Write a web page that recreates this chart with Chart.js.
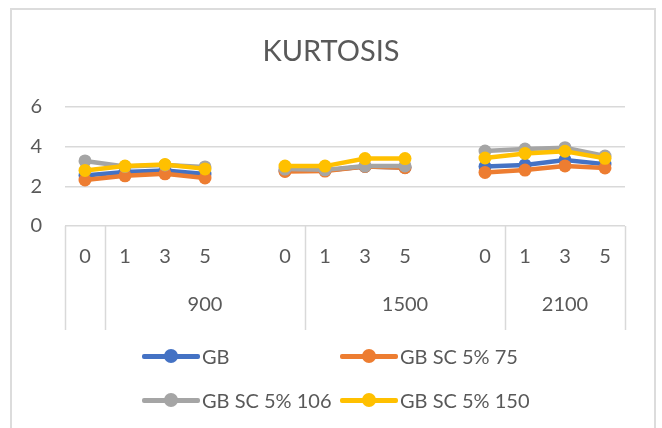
<!DOCTYPE html>
<html>
<head>
<meta charset="utf-8">
<script src="https://cdn.jsdelivr.net/npm/chart.js@4/dist/chart.umd.min.js"></script>
<style>
    html, body { margin: 0; padding: 0; background: #fff; }
    #wrap { position: relative; width: 662px; height: 428px; overflow: hidden; }
    #kurtChart { position: absolute; left: 0; top: 0; }
    #legend {
        position: absolute; left: 142px; top: 344px;
        display: grid; grid-template-columns: 198px auto; row-gap: 20px;
        font-family: Lato, "Open Sans", sans-serif; font-size: 20px; color: #595959;
    }
    .item { display: flex; align-items: center; height: 24px; white-space: nowrap; }
    .mark { position: relative; width: 58px; height: 24px; margin-right: 2px; }
    .mark .ln { position: absolute; left: 0; right: 0; top: 10px; height: 4.5px; border-radius: 2px; }
    .mark .dot { position: absolute; left: 22px; top: 5px; width: 14px; height: 14px; border-radius: 50%; }
</style>
</head>
<body>
<div id="wrap">
    <canvas id="kurtChart" width="662" height="428"></canvas>
    <div id="legend"></div>
</div>
<script>
// categories (blank slots separate the speed groups)
const tickLabels = ['0', '1', '3', '5', '', '0', '1', '3', '5', '', '0', '1', '3', '5'];
const groupLabels = ['', '900', '1500', '2100'];
const groupStart = [0, 1, 6, 11];

const seriesNames = ['GB', 'GB SC 5% 75', 'GB SC 5% 106', 'GB SC 5% 150'];
const gb     = [2.55, 2.72, 2.80, 2.62, null, 2.78, 2.80, 3.00, 2.95, null, 3.00, 3.08, 3.33, 3.12];
const sc75   = [2.32, 2.53, 2.63, 2.42, null, 2.75, 2.77, 3.00, 2.94, null, 2.70, 2.82, 3.03, 2.93];
const sc106  = [3.28, 3.00, 3.08, 2.98, null, 2.87, 2.83, 3.03, 3.03, null, 3.78, 3.88, 3.95, 3.53];
const sc150  = [2.80, 3.02, 3.10, 2.88, null, 3.02, 3.02, 3.40, 3.40, null, 3.43, 3.66, 3.77, 3.41];

const colors = ['#4472C4', '#ED7D31', '#A5A5A5', '#FFC000'];
const FONT = 'Lato, "Open Sans", sans-serif';
const TXT = '#595959';
const GRID = '#D9D9D9';

function makeSet(i, data) {
    return {
        label: seriesNames[i],
        data: data,
        borderColor: colors[i],
        backgroundColor: colors[i],
        borderWidth: 4.5,
        pointRadius: 6.5,
        pointBorderWidth: 0,
        pointHoverRadius: 6.5,
        tension: 0,
        spanGaps: false,
        order: 4 - i
    };
}

// frame, title, multi-level category box
const decor = {
    id: 'decor',
    beforeDraw(chart) {
        const c = chart.ctx;
        c.save();
        c.strokeStyle = '#DCDCDC';
        c.lineWidth = 2;
        c.strokeRect(11, 9, 644, 440);
        c.fillStyle = TXT;
        c.font = '29px ' + FONT;
        c.textAlign = 'center';
        c.textBaseline = 'middle';
        c.fillText('KURTOSIS', 331, 52);
        c.restore();
    },
    afterDraw(chart) {
        const c = chart.ctx;
        const x = chart.scales.x;
        const area = chart.chartArea;
        const half = (x.getPixelForValue(1) - x.getPixelForValue(0)) / 2;
        const top = area.bottom;
        const bottom = 330;
        c.save();
        c.strokeStyle = GRID;
        c.lineWidth = 1.5;
        const edges = groupStart.map(s => x.getPixelForValue(s) - half);
        edges.push(area.right);
        edges.forEach(px => {
            c.beginPath();
            c.moveTo(Math.round(px) + 0.5, top);
            c.lineTo(Math.round(px) + 0.5, bottom);
            c.stroke();
        });
        c.fillStyle = TXT;
        c.font = '20px ' + FONT;
        c.textAlign = 'center';
        c.textBaseline = 'middle';
        groupLabels.forEach((g, i) => {
            if (!g) return;
            c.fillText(g, (edges[i] + edges[i + 1]) / 2, 305);
        });
        c.restore();
    }
};

const chart = new Chart(document.getElementById('kurtChart'), {
    type: 'line',
    data: {
        labels: tickLabels,
        datasets: [makeSet(0, gb), makeSet(1, sc75), makeSet(2, sc106), makeSet(3, sc150)]
    },
    options: {
        responsive: false,
        animation: false,
        events: [],
        layout: { padding: { top: 107, right: 37, bottom: 92, left: 0 } },
        plugins: {
            legend: { display: false },
            title: { display: false },
            tooltip: { enabled: false }
        },
        scales: {
            x: {
                offset: true,
                grid: { display: false, drawTicks: false },
                border: { display: false },
                ticks: {
                    autoSkip: false, maxRotation: 0, padding: 19,
                    color: TXT, font: { family: FONT, size: 20 }
                },
                afterFit(scale) { scale.height = 110; }
            },
            y: {
                min: 0, max: 6,
                ticks: {
                    stepSize: 2, padding: 23,
                    color: TXT, font: { family: FONT, size: 20 }
                },
                grid: { color: GRID, lineWidth: 1.5, drawTicks: false },
                border: { display: false },
                afterFit(scale) { scale.width = 65; }
            }
        }
    },
    plugins: [decor]
});

// legend in two aligned columns
const legend = document.getElementById('legend');
chart.data.datasets.forEach(ds => {
    const item = document.createElement('div');
    item.className = 'item';
    item.innerHTML = '<span class="mark"><span class="ln" style="background:' + ds.borderColor +
        '"></span><span class="dot" style="background:' + ds.borderColor + '"></span></span><span>' +
        ds.label + '</span>';
    legend.appendChild(item);
});
</script>
</body>
</html>
